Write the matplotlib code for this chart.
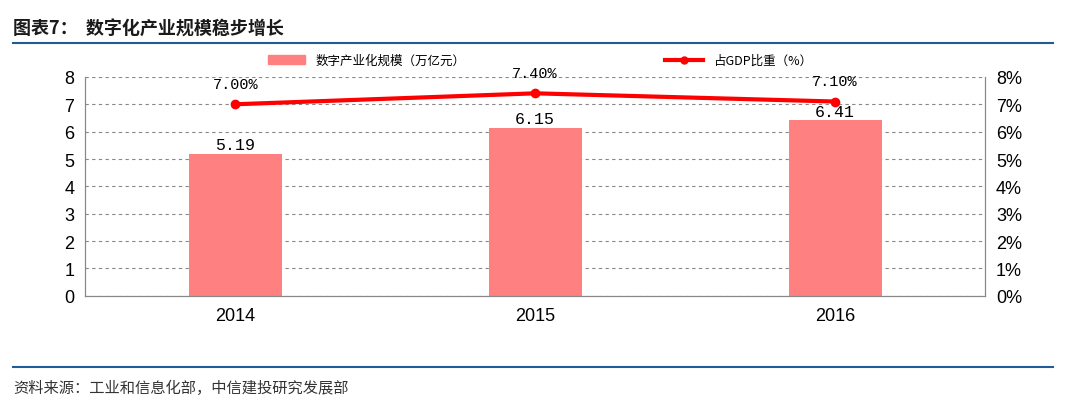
import matplotlib

matplotlib.use("Agg")

import matplotlib.pyplot as plt
from matplotlib.lines import Line2D
from matplotlib.patches import Patch

plt.rcParams["font.family"] = ["Noto Sans CJK SC", "DejaVu Sans"]

years = ["2014", "2015", "2016"]
scale = [5.19, 6.15, 6.41]
share = [7.00, 7.40, 7.10]

bar_color = "#FF8080"
line_color = "#FF0000"
blue = "#1F5C99"

fig = plt.figure(figsize=(10.8, 4.1), dpi=100)
ax = fig.add_axes([0.079, 0.276, 0.833, 0.534])
ax2 = ax.twinx()

x = range(len(years))
ax.bar(x, scale, width=0.31, color=bar_color, zorder=2)
for i, v in zip(x, scale):
    ax.text(i, v + 0.05, f"{v:.2f}", ha="center", va="bottom",
            fontsize=12, family="Liberation Mono")

ax2.plot(x, share, color=line_color, lw=3, marker="o", ms=6, zorder=3)
for i, v in zip(x, share):
    ax2.text(i, v + 0.5, f"{v:.2f}%", ha="center", va="bottom",
             fontsize=11, family="Liberation Mono")

ax.set_xlim(-0.5, 2.5)
ax.set_ylim(0, 8)
ax2.set_ylim(0, 8)
ax.set_xticks(list(x))
ax.set_xticklabels(years)
ax.set_yticks(range(9))
ax2.set_yticks(range(9))
ax2.set_yticklabels([f"{i}%" for i in range(9)])
ax.yaxis.grid(True, ls=(0, (3, 3)), color="#888888", lw=0.8, zorder=0)
for a in (ax, ax2):
    a.tick_params(labelsize=13, length=0, pad=8, labelfontfamily="Liberation Sans")
    for s in a.spines.values():
        s.set_color("#888888")
ax.spines["top"].set_visible(False)
ax2.spines["top"].set_visible(False)

handles = [Patch(color=bar_color),
           Line2D([], [], color=line_color, lw=3, marker="o", ms=5)]
fig.legend(handles, ["数字产业化规模（万亿元）", "占GDP比重（%）"], ncol=2,
           loc="center", bbox_to_anchor=(0.5, 0.85), frameon=False,
           fontsize=9, columnspacing=16, handlelength=3)

fig.text(0.012, 0.93, "图表7：  数字化产业规模稳步增长", fontsize=13,
         fontweight="bold", color="#1a1a1a", va="center")
fig.add_artist(Line2D([0.012, 0.975], [0.893, 0.893], color=blue, lw=1.5))
fig.add_artist(Line2D([0.012, 0.975], [0.103, 0.103], color=blue, lw=1.5))
fig.text(0.012, 0.052, "资料来源：工业和信息化部，中信建投研究发展部", fontsize=11,
         style="italic", color="#333333", va="center")

fig.savefig("out.png", dpi=100)
